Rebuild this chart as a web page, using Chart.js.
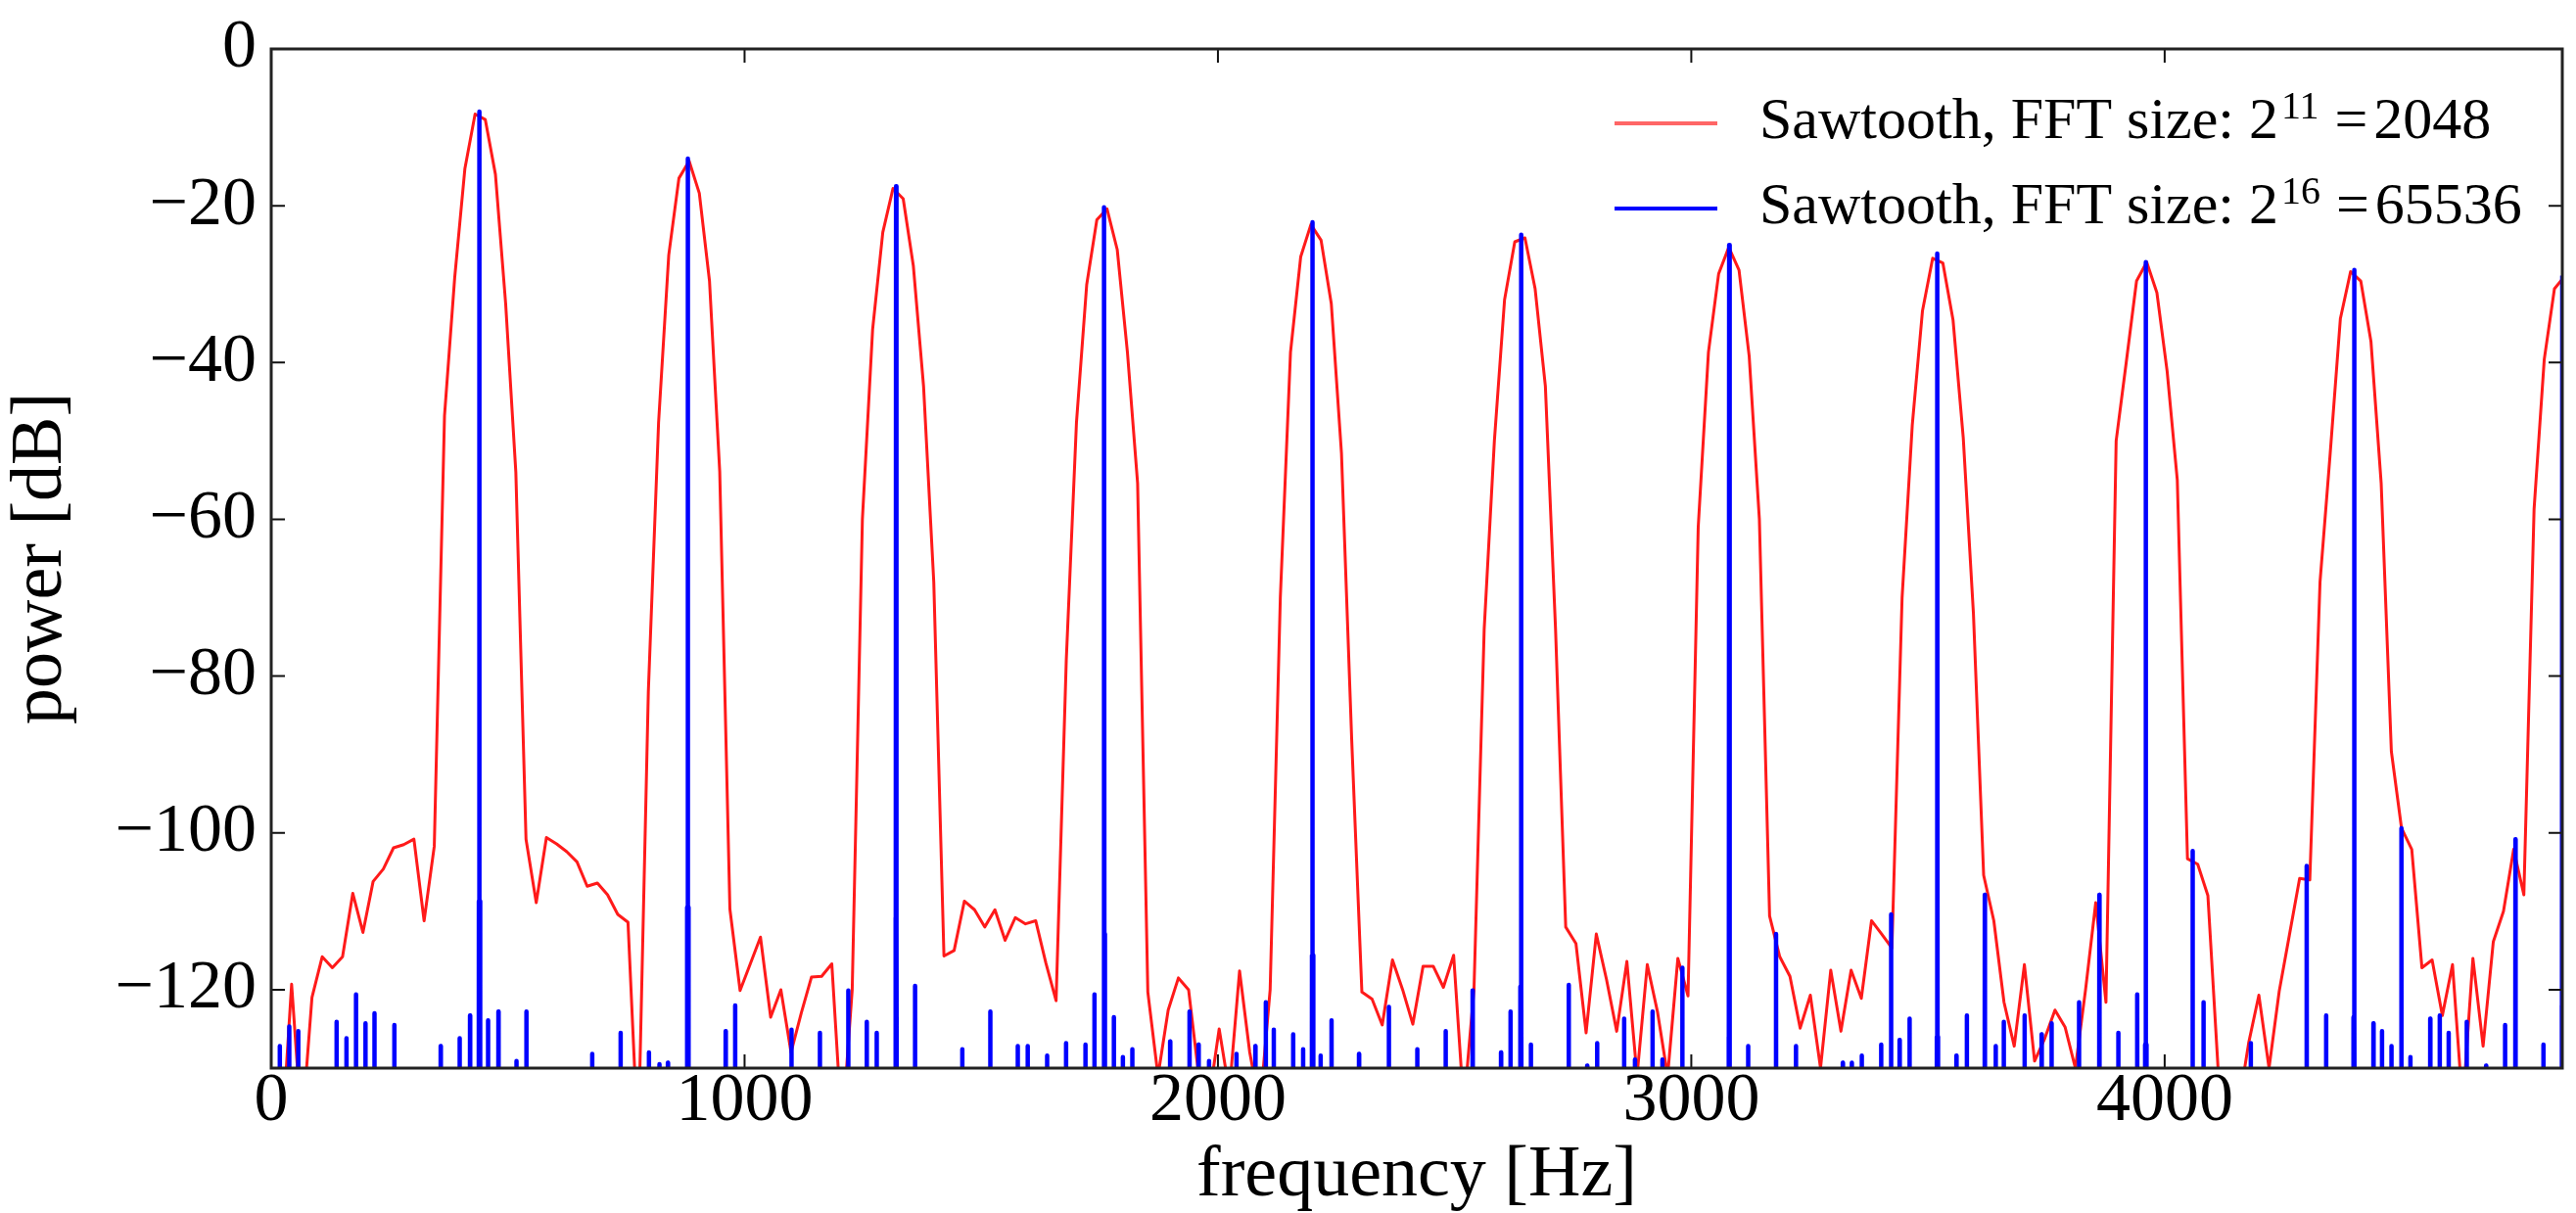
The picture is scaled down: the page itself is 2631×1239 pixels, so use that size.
<!DOCTYPE html>
<html>
<head>
<meta charset="utf-8">
<script src="https://cdn.jsdelivr.net/npm/chart.js@4.4.1/dist/chart.umd.min.js"></script>
<style>
  html, body { margin: 0; padding: 0; background: #fff; }
  #wrap { width: 2631px; height: 1239px; }
</style>
</head>
<body>
<div id="wrap"><canvas id="spectrumChart"></canvas></div>
<script>
// FFT bin centres (Hz) of the 2048-point spectrum, fs = 44.1 kHz
const binFreqs = [
  0, 21.5, 43.1, 64.6, 86.1, 107.7, 129.2, 150.7, 172.3, 193.8,
  215.3, 236.9, 258.4, 279.9, 301.5, 323.0, 344.5, 366.1, 387.6, 409.1,
  430.7, 452.2, 473.7, 495.3, 516.8, 538.3, 559.9, 581.4, 602.9, 624.5,
  646.0, 667.5, 689.1, 710.6, 732.1, 753.7, 775.2, 796.7, 818.3, 839.8,
  861.3, 882.9, 904.4, 925.9, 947.5, 969.0, 990.5, 1012.1, 1033.6, 1055.1,
  1076.7, 1098.2, 1119.7, 1141.3, 1162.8, 1184.3, 1205.9, 1227.4, 1248.9, 1270.5,
  1292.0, 1313.5, 1335.1, 1356.6, 1378.1, 1399.7, 1421.2, 1442.7, 1464.3, 1485.8,
  1507.3, 1528.9, 1550.4, 1571.9, 1593.5, 1615.0, 1636.5, 1658.1, 1679.6, 1701.1,
  1722.7, 1744.2, 1765.7, 1787.3, 1808.8, 1830.3, 1851.9, 1873.4, 1894.9, 1916.5,
  1938.0, 1959.5, 1981.1, 2002.6, 2024.1, 2045.7, 2067.2, 2088.7, 2110.3, 2131.8,
  2153.3, 2174.9, 2196.4, 2217.9, 2239.5, 2261.0, 2282.5, 2304.1, 2325.6, 2347.1,
  2368.7, 2390.2, 2411.7, 2433.3, 2454.8, 2476.3, 2497.9, 2519.4, 2540.9, 2562.5,
  2584.0, 2605.5, 2627.1, 2648.6, 2670.1, 2691.7, 2713.2, 2734.7, 2756.3, 2777.8,
  2799.3, 2820.9, 2842.4, 2863.9, 2885.4, 2907.0, 2928.5, 2950.0, 2971.6, 2993.1,
  3014.6, 3036.2, 3057.7, 3079.2, 3100.8, 3122.3, 3143.8, 3165.4, 3186.9, 3208.4,
  3230.0, 3251.5, 3273.0, 3294.6, 3316.1, 3337.6, 3359.2, 3380.7, 3402.2, 3423.8,
  3445.3, 3466.8, 3488.4, 3509.9, 3531.4, 3553.0, 3574.5, 3596.0, 3617.6, 3639.1,
  3660.6, 3682.2, 3703.7, 3725.2, 3746.8, 3768.3, 3789.8, 3811.4, 3832.9, 3854.4,
  3876.0, 3897.5, 3919.0, 3940.6, 3962.1, 3983.6, 4005.2, 4026.7, 4048.2, 4069.8,
  4091.3, 4112.8, 4134.4, 4155.9, 4177.4, 4199.0, 4220.5, 4242.0, 4263.6, 4285.1,
  4306.6, 4328.2, 4349.7, 4371.2, 4392.8, 4414.3, 4435.8, 4457.4, 4478.9, 4500.4,
  4522.0, 4543.5, 4565.0, 4586.6, 4608.1, 4629.6, 4651.2, 4672.7, 4694.2, 4715.8,
  4737.3, 4758.8, 4780.4, 4801.9, 4823.4, 4845.0
];

// power of each bin (dB), FFT size 2048
const redPower = [
  -140, -140, -119.3, -138, -121, -115.8, -117.2, -115.8, -107.7, -112.7,
  -106.2, -104.6, -101.9, -101.5, -100.8, -111.2, -101.7, -46.8, -29.2, -15.3,
  -8.3, -9.0, -16.0, -32.5, -54, -100.8, -108.9, -100.6, -101.4, -102.4,
  -103.7, -106.8, -106.4, -107.9, -110.4, -111.4, -140, -82, -47.7, -26.3,
  -16.5, -14.3, -18.4, -29.6, -53.9, -109.7, -120.1, -116.7, -113.3, -123.5,
  -120, -128, -123, -118.4, -118.3, -116.7, -138, -120, -60, -35.8,
  -23.4, -17.8, -19.1, -27.7, -43, -68, -115.7, -115.0, -108.7, -109.8,
  -112.0, -109.8, -113.7, -110.8, -111.6, -111.2, -116.6, -121.4, -78, -47.7,
  -30.1, -21.8, -20.4, -25.6, -38.7, -55.4, -120.3, -131, -122.6, -118.5,
  -120, -131, -134, -125, -133, -117.6, -128, -135, -120, -70,
  -38.7, -26.5, -22.4, -24.4, -32.5, -51.6, -88, -120.3, -121.2, -124.5,
  -116.2, -120, -124.4, -117, -117, -119.7, -115.6, -135, -120, -74,
  -50, -32.0, -24.6, -24.1, -30.6, -43.0, -74, -112.0, -114.1, -125.5,
  -112.9, -118.7, -125.3, -116.4, -131, -116.8, -122.8, -131, -116, -120.8,
  -61, -38.7, -28.7, -25.3, -28.2, -39.2, -60, -110.6, -115.8, -118.3,
  -124.9, -120.7, -130, -117.5, -125.3, -117.5, -121.1, -111.2, -112.9, -114.7,
  -70, -48, -33.4, -26.7, -27.3, -34.6, -49.6, -72, -105.4, -111.2,
  -121.6, -127.2, -116.8, -129.1, -126.2, -122.6, -124.8, -130, -120, -108.9,
  -121.6, -50, -39.9, -29.6, -27.2, -31.1, -41.1, -55, -103.3, -104,
  -108, -130, -135, -135, -126.8, -120.7, -130, -120.2, -113, -105.8,
  -106, -68, -51.6, -34.4, -28.4, -29.6, -37.3, -55.4, -89.6, -99.4,
  -102.1, -117.2, -116.2, -123.3, -116.8, -135, -116, -127.2, -113.9, -110,
  -102.1, -107.9, -58.7, -39.6, -30.6, -29.0
];

// FFT size 65536: only the spikes reach above the -130 dB floor
const spikeFreqs = [
  18, 38, 57, 138, 159, 179, 199, 218, 260, 358,
  398, 420, 438.7, 440, 441.3, 458, 480, 518, 539, 678,
  738, 798, 820, 838, 878.7, 880, 881.3, 960, 980, 1099,
  1159, 1219, 1258, 1279, 1318.7, 1320, 1321.3, 1360, 1460, 1519,
  1577, 1598, 1639, 1679, 1720, 1739, 1758.7, 1760, 1761.3, 1780,
  1799, 1819, 1899, 1940, 1959, 1981, 2039, 2079, 2101, 2118,
  2159, 2180, 2198.7, 2200, 2201.3, 2217, 2240, 2298, 2361, 2421,
  2481, 2538, 2598, 2618, 2638.7, 2640, 2641.3, 2661, 2741, 2780,
  2801, 2858, 2881, 2918, 2939, 2981, 3078.7, 3080, 3081.3, 3120,
  3179, 3221, 3320, 3339, 3360, 3401, 3422, 3440, 3461, 3518.7,
  3520, 3521.3, 3560, 3582, 3620, 3643, 3660, 3704, 3740, 3761,
  3819, 3862, 3902, 3942, 3958.7, 3960, 3961.3, 4059, 4082, 4182,
  4300, 4341, 4398.7, 4400, 4401.3, 4441, 4459, 4479, 4500, 4519,
  4561, 4581, 4600, 4638, 4679, 4719, 4741, 4800, 4838.7, 4840
];
const spikePower = [
  -127.2, -124.7, -125.3, -124.1, -126.2, -120.6, -124.3, -123.0, -124.5, -127.2,
  -126.2, -123.3, -108.7, -8.0, -108.7, -123.9, -122.8, -129.1, -122.8, -128.2,
  -125.5, -128.0, -129.5, -129.3, -109.5, -14.0, -109.5, -125.3, -122.0, -125.1,
  -125.5, -120.1, -124.1, -125.5, -110.8, -17.5, -110.8, -119.5, -127.6, -122.8,
  -127.2, -127.2, -128.4, -126.8, -127.0, -120.6, -112.9, -20.2, -112.9, -123.5,
  -128.6, -127.6, -126.6, -122.8, -127.0, -129.1, -128.2, -127.2, -121.6, -125.1,
  -125.7, -127.6, -115.6, -22.1, -115.6, -128.4, -123.9, -128.2, -122.2, -127.6,
  -125.3, -120.1, -128.0, -122.8, -119.6, -23.7, -119.6, -127.0, -119.4, -129.7,
  -126.8, -123.7, -128.9, -122.8, -128.9, -117.2, -126, -25.0, -126, -127.2,
  -112.9, -127.2, -129.3, -129.3, -128.4, -127.0, -110.4, -126.4, -123.7, -126,
  -26.1, -126, -128.4, -123.3, -107.9, -127.2, -124.1, -123.3, -125.7, -124.3,
  -121.6, -107.9, -125.5, -120.6, -127, -27.2, -127, -102.3, -121.6, -126.8,
  -104.2, -123.3, -123.5, -28.2, -123.5, -124.3, -125.3, -127.2, -99.4, -128.6,
  -123.7, -123.3, -125.5, -124.1, -129.7, -124.5, -100.8, -127.0, -122, -28.9
];
const SPIKE_FLOOR = -150;   // below the visible range, between spikes

const xTicks = [0, 1000, 2000, 3000, 4000];
const yTicks = [0, -20, -40, -60, -80, -100, -120];

const seriesLabels = ['Sawtooth, FFT size: ', 'Sawtooth, FFT size: '];
const sizeExponents = ['11', '16'];
const sizeValues = ['2048', '65536'];

const FONT = "'Liberation Serif', 'DejaVu Serif', serif";
const TICK_LEN = 14;

// build the point lists the line controller wants
const redPoints = binFreqs.map((f, i) => ({ x: f, y: redPower[i] }));
const bluePoints = [];
spikeFreqs.forEach((f, i) => {
  bluePoints.push({ x: f - 0.4, y: SPIKE_FLOOR }, { x: f, y: spikePower[i] }, { x: f + 0.4, y: SPIKE_FLOOR });
});

const minus = v => (v < 0 ? '\u2212' + Math.abs(v) : String(v));

// matplotlib-style box with inward ticks, plus the legend with exponents
const frameAndLegend = {
  id: 'frameAndLegend',
  afterDatasetsDraw(chart) {
    const { ctx, chartArea: a, scales: { x, y } } = chart;
    ctx.save();
    ctx.strokeStyle = '#111';
    ctx.lineWidth = 2;
    ctx.beginPath();
    xTicks.forEach(v => {
      const px = x.getPixelForValue(v);
      ctx.moveTo(px, a.bottom); ctx.lineTo(px, a.bottom - TICK_LEN);
      ctx.moveTo(px, a.top); ctx.lineTo(px, a.top + TICK_LEN);
    });
    yTicks.forEach(v => {
      const py = y.getPixelForValue(v);
      ctx.moveTo(a.left, py); ctx.lineTo(a.left + TICK_LEN, py);
      ctx.moveTo(a.right, py); ctx.lineTo(a.right - TICK_LEN, py);
    });
    ctx.stroke();
    ctx.strokeStyle = '#222';
    ctx.lineWidth = 3;
    ctx.strokeRect(a.left, a.top, a.right - a.left, a.bottom - a.top);

    // legend
    const colors = ['rgba(255,0,0,0.6)', '#0000ff'];
    const mainFont = '60px ' + FONT;
    const supFont = '40px ' + FONT;
    ctx.textBaseline = 'alphabetic';
    ctx.textAlign = 'left';
    seriesLabels.forEach((label, i) => {
      const yLine = a.top + 76 + i * 87;
      const base = yLine + 15;
      ctx.strokeStyle = colors[i];
      ctx.lineWidth = 4;
      ctx.beginPath();
      ctx.moveTo(a.right - 968, yLine);
      ctx.lineTo(a.right - 863, yLine);
      ctx.stroke();

      ctx.fillStyle = '#000';
      let tx = a.right - 820;
      ctx.font = mainFont;
      ctx.fillText(label, tx, base);
      tx += ctx.measureText(label).width;
      ctx.fillText('2', tx, base);
      tx += ctx.measureText('2').width + 3;
      ctx.font = supFont;
      ctx.fillText(sizeExponents[i], tx, base - 20);
      tx += ctx.measureText(sizeExponents[i]).width + 16;
      ctx.font = mainFont;
      ctx.fillText('=', tx, base);
      tx += ctx.measureText('=').width + 6;
      ctx.fillText(sizeValues[i], tx, base);
    });
    ctx.restore();
  }
};

const ctx = document.getElementById('spectrumChart').getContext('2d');

new Chart(ctx, {
  type: 'line',
  data: {
    datasets: [
      {
        label: 'Sawtooth, FFT size: 2^11 =2048',
        data: redPoints,
        borderColor: '#ff1a1a',
        borderWidth: 3,
        borderJoinStyle: 'round',
        pointRadius: 0,
        tension: 0,
        order: 1,
      },
      {
        label: 'Sawtooth, FFT size: 2^16 =65536',
        data: bluePoints,
        borderColor: '#0000ff',
        borderWidth: 4.5,
        borderJoinStyle: 'round',
        pointRadius: 0,
        tension: 0,
        order: 0,
      },
    ],
  },
  options: {
    responsive: true,
    maintainAspectRatio: false,
    animation: false,
    devicePixelRatio: 1,
    events: [],
    layout: { padding: { top: 47, right: 14, bottom: 0, left: 0 } },
    plugins: {
      legend: { display: false },
      tooltip: { enabled: false },
    },
    scales: {
      x: {
        type: 'linear',
        min: 0,
        max: 4840,
        afterBuildTicks: s => { s.ticks = xTicks.map(v => ({ value: v })); },
        afterFit: s => { s.height = 148; },
        grid: { display: false, drawTicks: false },
        border: { display: false },
        ticks: {
          autoSkip: false,
          maxRotation: 0,
          minRotation: 0,
          padding: 0,
          color: '#000',
          font: { family: FONT, size: 70, lineHeight: 1.0 },
          callback: v => String(v),
        },
        title: {
          display: true,
          text: 'frequency [Hz]',
          color: '#000',
          font: { family: FONT, size: 74, lineHeight: 1.0 },
          padding: { top: 0, bottom: 0 },
        },
      },
      y: {
        type: 'linear',
        min: -130,
        max: 0,
        afterBuildTicks: s => { s.ticks = yTicks.map(v => ({ value: v })); },
        afterFit: s => { s.width = 277; },
        grid: { display: false, drawTicks: false },
        border: { display: false },
        ticks: {
          padding: 15,
          color: '#000',
          font: { family: FONT, size: 70, lineHeight: 1.0 },
          callback: v => minus(v),
        },
        title: {
          display: true,
          text: 'power [dB]',
          color: '#000',
          font: { family: FONT, size: 74, lineHeight: 1.0 },
          padding: { top: 6, bottom: 0 },
        },
      },
    },
  },
  plugins: [frameAndLegend],
});
</script>
</body>
</html>
